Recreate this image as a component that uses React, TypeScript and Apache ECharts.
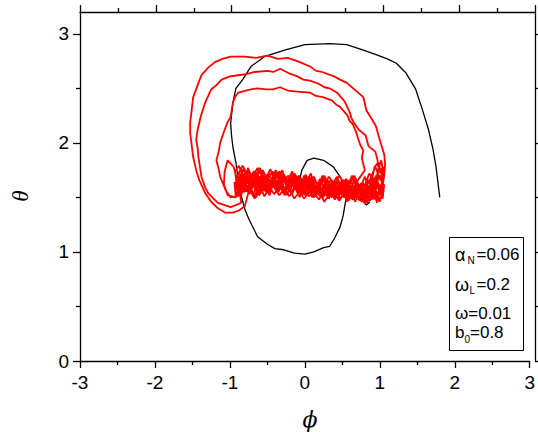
import React, { useEffect, useRef } from "react";
import * as echarts from "echarts";

// ---- axis settings ----
const xMin = -3;
const xMax = 3;
const yMin = 0;
const yMax = 3; // labelled range of the data grid
const yFrameMax = 3.2; // top edge of the frame
const yRightTicks = [0, 0.5, 1, 1.5, 2, 2.5, 3];

// ---- black trajectory ----
const blackPath: number[][] = [
  [0.87, 1.46], [0.82, 1.43], [0.76, 1.48], [0.70, 1.53], [0.62, 1.50], [0.55, 1.56],
  [0.45, 1.52], [0.35, 1.58], [0.25, 1.53], [0.15, 1.57], [0.05, 1.60], [-0.05, 1.64],
  [-0.06, 1.69], [-0.04, 1.75], [0.03, 1.84], [0.12, 1.86], [0.25, 1.84], [0.38, 1.78],
  [0.47, 1.69], [0.52, 1.60], [0.56, 1.52], [0.54, 1.45], [0.51, 1.33], [0.47, 1.23],
  [0.40, 1.13], [0.33, 1.05], [0.25, 1.04], [0.12, 1.00], [0.00, 0.98], [-0.14, 0.99],
  [-0.28, 1.02], [-0.40, 1.03], [-0.50, 1.07], [-0.63, 1.14], [-0.74, 1.29], [-0.80, 1.39],
  [-0.87, 1.57], [-0.92, 1.82], [-0.96, 1.96], [-0.98, 2.08], [-0.99, 2.18], [-0.96, 2.37],
  [-0.92, 2.50], [-0.83, 2.58], [-0.72, 2.70], [-0.54, 2.79], [-0.27, 2.85], [0.00, 2.90],
  [0.33, 2.91], [0.56, 2.90], [0.78, 2.85], [0.95, 2.81], [1.10, 2.77], [1.22, 2.73],
  [1.35, 2.64], [1.48, 2.49], [1.57, 2.30], [1.65, 2.12], [1.71, 1.94], [1.75, 1.78],
  [1.80, 1.50],
];

// ---- red trajectory pieces ----
const bandPass1: number[][] = [
  [-0.88, 1.60], [-0.80, 1.70], [-0.71, 1.58], [-0.62, 1.66], [-0.52, 1.55], [-0.43, 1.68],
  [-0.33, 1.61], [-0.22, 1.70], [-0.13, 1.57], [-0.02, 1.65], [0.08, 1.54], [0.18, 1.63],
  [0.27, 1.52], [0.37, 1.64], [0.48, 1.55], [0.57, 1.61], [0.68, 1.50], [0.77, 1.62],
  [0.87, 1.53], [0.96, 1.64], [1.03, 1.58],
];
const bandPass2: number[][] = [
  [1.05, 1.68], [0.97, 1.52], [0.90, 1.60], [0.81, 1.49], [0.72, 1.58], [0.63, 1.51],
  [0.53, 1.63], [0.44, 1.49], [0.33, 1.59], [0.24, 1.50], [0.13, 1.62], [0.03, 1.53],
  [-0.07, 1.66], [-0.18, 1.55], [-0.28, 1.69], [-0.38, 1.57], [-0.48, 1.72], [-0.58, 1.60],
  [-0.68, 1.74], [-0.78, 1.62], [-0.86, 1.72], [-0.92, 1.58],
];
const densePass1: number[][] = [
  [-0.90, 1.62], [-0.85, 1.70], [-0.80, 1.66], [-0.75, 1.74], [-0.70, 1.61], [-0.65, 1.68],
  [-0.60, 1.57], [-0.55, 1.65], [-0.50, 1.71], [-0.45, 1.60], [-0.40, 1.67], [-0.35, 1.55],
  [-0.30, 1.63], [-0.25, 1.69], [-0.20, 1.58], [-0.15, 1.66], [-0.10, 1.54], [-0.05, 1.61],
  [0.00, 1.67], [0.05, 1.56], [0.10, 1.63], [0.15, 1.52], [0.20, 1.60], [0.25, 1.66],
  [0.30, 1.55], [0.35, 1.62], [0.40, 1.50], [0.45, 1.58], [0.50, 1.64], [0.55, 1.53],
  [0.60, 1.60], [0.65, 1.49], [0.70, 1.57], [0.75, 1.63], [0.80, 1.52], [0.85, 1.59],
  [0.90, 1.48], [0.95, 1.62], [1.00, 1.70], [1.05, 1.60],
];
const densePass2: number[][] = [
  [1.04, 1.49], [0.99, 1.56], [0.94, 1.66], [0.89, 1.55], [0.84, 1.61], [0.79, 1.51],
  [0.74, 1.58], [0.69, 1.64], [0.64, 1.54], [0.59, 1.49], [0.54, 1.57], [0.49, 1.62],
  [0.44, 1.52], [0.39, 1.59], [0.34, 1.66], [0.29, 1.57], [0.24, 1.51], [0.19, 1.59],
  [0.14, 1.65], [0.09, 1.55], [0.04, 1.62], [-0.01, 1.70], [-0.06, 1.59], [-0.11, 1.66],
  [-0.16, 1.72], [-0.21, 1.61], [-0.26, 1.56], [-0.31, 1.66], [-0.36, 1.73], [-0.41, 1.62],
  [-0.46, 1.57], [-0.51, 1.67], [-0.56, 1.75], [-0.61, 1.64], [-0.66, 1.58], [-0.71, 1.69],
  [-0.76, 1.77], [-0.81, 1.60], [-0.86, 1.54], [-0.91, 1.66],
];
const bandPass3: number[][] = [
  [-0.90, 1.52], [-0.82, 1.63], [-0.74, 1.54], [-0.65, 1.73], [-0.56, 1.62], [-0.46, 1.76],
  [-0.37, 1.58], [-0.27, 1.66], [-0.17, 1.53], [-0.08, 1.70], [0.02, 1.59], [0.12, 1.67],
  [0.22, 1.57], [0.32, 1.69], [0.42, 1.60], [0.52, 1.66], [0.62, 1.56], [0.72, 1.67],
];
const innerArc: number[][] = [
  [0.80, 1.75], [0.76, 1.86], [0.78, 1.93], [0.74, 1.98], [0.71, 2.04], [0.69, 2.09],
  [0.64, 2.17], [0.60, 2.20], [0.57, 2.25], [0.47, 2.33], [0.42, 2.35], [0.36, 2.39],
  [0.24, 2.42], [0.15, 2.43], [0.07, 2.46], [-0.10, 2.47], [-0.23, 2.48], [-0.33, 2.51],
  [-0.43, 2.49], [-0.52, 2.49], [-0.63, 2.50], [-0.72, 2.49], [-0.89, 2.46], [-0.93, 2.42],
  [-0.96, 2.37], [-0.99, 2.24], [-1.03, 2.19], [-1.07, 2.12], [-1.13, 2.00], [-1.15, 1.92],
  [-1.18, 1.84], [-1.15, 1.76], [-1.13, 1.69], [-1.06, 1.57], [-0.99, 1.50], [-0.85, 1.52],
];
const bandPass5: number[][] = [
  [-0.95, 1.78], [-1.03, 1.84], [-1.07, 1.74], [-1.08, 1.62], [-1.03, 1.52], [-0.93, 1.50],
  [-0.84, 1.57], [-0.75, 1.69], [-0.66, 1.59], [-0.57, 1.70], [-0.47, 1.54], [-0.38, 1.73],
  [-0.28, 1.56], [-0.19, 1.64], [-0.09, 1.55], [0.01, 1.71], [0.11, 1.56], [0.21, 1.66],
  [0.31, 1.49], [0.41, 1.61], [0.51, 1.52], [0.61, 1.64], [0.71, 1.53], [0.80, 1.69],
  [0.89, 1.50], [0.98, 1.62], [1.04, 1.52],
];
const bandPass6: number[][] = [
  [1.06, 1.62], [1.00, 1.46], [0.92, 1.57], [0.83, 1.45], [0.74, 1.60], [0.64, 1.48],
  [0.55, 1.56], [0.46, 1.47], [0.36, 1.56], [0.26, 1.46], [0.16, 1.60], [0.06, 1.51],
  [-0.04, 1.58], [-0.14, 1.49], [-0.24, 1.61], [-0.34, 1.52], [-0.44, 1.62], [-0.54, 1.51],
  [-0.64, 1.67], [-0.74, 1.53], [-0.84, 1.64], [-0.90, 1.55],
];
const densePass3: number[][] = [
  [-0.93, 1.74], [-0.88, 1.79], [-0.83, 1.70], [-0.78, 1.55], [-0.73, 1.63], [-0.68, 1.72],
  [-0.63, 1.66], [-0.58, 1.54], [-0.53, 1.60], [-0.48, 1.69], [-0.43, 1.74], [-0.38, 1.63],
  [-0.33, 1.58], [-0.28, 1.71], [-0.23, 1.65], [-0.18, 1.53], [-0.13, 1.62], [-0.08, 1.68],
  [-0.03, 1.57], [0.02, 1.52], [0.07, 1.60], [0.12, 1.69], [0.17, 1.61], [0.22, 1.54],
  [0.27, 1.63], [0.32, 1.49], [0.37, 1.56], [0.42, 1.61], [0.47, 1.48], [0.52, 1.55],
  [0.57, 1.66], [0.62, 1.58], [0.67, 1.46], [0.72, 1.53], [0.77, 1.64], [0.82, 1.57],
  [0.87, 1.47], [0.92, 1.55], [0.97, 1.71], [1.03, 1.64],
];
const densePass4: number[][] = [
  [1.06, 1.76], [1.01, 1.58], [0.96, 1.45], [0.91, 1.67], [0.86, 1.72], [0.81, 1.63],
  [0.76, 1.50], [0.71, 1.61], [0.66, 1.67], [0.61, 1.57], [0.56, 1.46], [0.51, 1.58],
  [0.46, 1.65], [0.41, 1.56], [0.36, 1.50], [0.31, 1.61], [0.26, 1.70], [0.21, 1.63],
  [0.16, 1.53], [0.11, 1.59], [0.06, 1.67], [0.01, 1.58], [-0.04, 1.52], [-0.09, 1.63],
  [-0.14, 1.69], [-0.19, 1.60], [-0.24, 1.52], [-0.29, 1.59], [-0.34, 1.68], [-0.39, 1.75],
  [-0.44, 1.66], [-0.49, 1.55], [-0.54, 1.62], [-0.59, 1.70], [-0.64, 1.63], [-0.69, 1.52],
  [-0.74, 1.60], [-0.79, 1.73], [-0.84, 1.67], [-0.89, 1.57],
];
const bandPass7: number[][] = [
  [-0.91, 1.69], [-0.83, 1.79], [-0.73, 1.66], [-0.63, 1.77], [-0.53, 1.65], [-0.43, 1.63],
  [-0.34, 1.74], [-0.24, 1.60], [-0.14, 1.72], [-0.04, 1.62], [0.06, 1.69], [0.16, 1.58],
  [0.26, 1.68], [0.36, 1.56], [0.46, 1.70], [0.56, 1.58], [0.66, 1.70], [0.76, 1.55],
  [0.86, 1.65], [0.94, 1.78], [1.01, 1.66], [1.05, 1.78],
];
const middleArc: number[][] = [
  [0.99, 1.73], [0.97, 1.84], [0.94, 1.92], [0.85, 1.97], [0.83, 2.02], [0.81, 2.07],
  [0.72, 2.12], [0.65, 2.19], [0.62, 2.23], [0.60, 2.28], [0.53, 2.38], [0.43, 2.46],
  [0.33, 2.50], [0.26, 2.51], [0.19, 2.54], [0.07, 2.57], [-0.02, 2.58], [-0.10, 2.61],
  [-0.22, 2.64], [-0.33, 2.68], [-0.42, 2.65], [-0.50, 2.66], [-0.67, 2.65], [-0.78, 2.63],
  [-0.89, 2.62], [-1.00, 2.61], [-1.11, 2.58], [-1.18, 2.53], [-1.25, 2.49], [-1.33, 2.37],
  [-1.39, 2.24], [-1.43, 2.12], [-1.45, 2.03], [-1.43, 1.95], [-1.42, 1.87], [-1.38, 1.69],
  [-1.33, 1.59], [-1.29, 1.54], [-1.22, 1.49], [-1.16, 1.45], [-0.99, 1.41], [-0.85, 1.45],
];
const bandPass4: number[][] = [
  [-0.89, 1.67], [-0.81, 1.55], [-0.71, 1.65], [-0.61, 1.52], [-0.51, 1.64], [-0.41, 1.53],
  [-0.31, 1.63], [-0.21, 1.51], [-0.11, 1.60], [-0.01, 1.49], [0.09, 1.57], [0.19, 1.48],
  [0.29, 1.62], [0.39, 1.52], [0.49, 1.58], [0.58, 1.47], [0.66, 1.55], [0.76, 1.46],
  [0.85, 1.66], [0.93, 1.48], [0.97, 1.74], [1.02, 1.84], [1.05, 1.70],
];
const bandPass8: number[][] = [
  [1.03, 1.50], [0.95, 1.70], [0.88, 1.59], [0.79, 1.48], [0.69, 1.62], [0.60, 1.54],
  [0.50, 1.60], [0.40, 1.55], [0.30, 1.66], [0.20, 1.54], [0.11, 1.64], [0.01, 1.56],
  [-0.09, 1.62], [-0.19, 1.68], [-0.29, 1.55], [-0.39, 1.66], [-0.49, 1.59], [-0.59, 1.75],
  [-0.69, 1.62], [-0.79, 1.70], [-0.87, 1.58], [-0.94, 1.64],
];
const densePass5: number[][] = [
  [-0.92, 1.50], [-0.87, 1.63], [-0.82, 1.76], [-0.77, 1.69], [-0.72, 1.58], [-0.67, 1.50],
  [-0.62, 1.61], [-0.57, 1.68], [-0.52, 1.58], [-0.47, 1.52], [-0.42, 1.64], [-0.37, 1.70],
  [-0.32, 1.61], [-0.27, 1.54], [-0.22, 1.66], [-0.17, 1.74], [-0.12, 1.64], [-0.07, 1.50],
  [-0.02, 1.58], [0.03, 1.66], [0.08, 1.72], [0.13, 1.60], [0.18, 1.55], [0.23, 1.70],
  [0.28, 1.62], [0.33, 1.52], [0.38, 1.64], [0.43, 1.69], [0.48, 1.58], [0.53, 1.50],
  [0.58, 1.62], [0.63, 1.70], [0.68, 1.60], [0.73, 1.47], [0.78, 1.56], [0.83, 1.67],
  [0.88, 1.61], [0.93, 1.78], [0.98, 1.82], [1.03, 1.69],
];
const densePass6: number[][] = [
  [1.05, 1.55], [1.00, 1.48], [0.95, 1.56], [0.90, 1.70], [0.85, 1.52], [0.80, 1.44],
  [0.75, 1.55], [0.70, 1.62], [0.65, 1.52], [0.60, 1.58], [0.55, 1.67], [0.50, 1.57],
  [0.45, 1.54], [0.40, 1.64], [0.35, 1.58], [0.30, 1.51], [0.25, 1.59], [0.20, 1.67],
  [0.15, 1.57], [0.10, 1.50], [0.05, 1.58], [0.00, 1.63], [-0.05, 1.53], [-0.10, 1.60],
  [-0.15, 1.66], [-0.20, 1.55], [-0.25, 1.63], [-0.30, 1.75], [-0.35, 1.67], [-0.40, 1.59],
  [-0.45, 1.65], [-0.50, 1.61], [-0.55, 1.69], [-0.60, 1.77], [-0.65, 1.71], [-0.70, 1.65],
  [-0.75, 1.55], [-0.80, 1.65], [-0.85, 1.76], [-0.90, 1.70],
];
const bandPass9: number[][] = [
  [-0.86, 1.52], [-0.77, 1.61], [-0.67, 1.49], [-0.58, 1.58], [-0.48, 1.67], [-0.39, 1.57],
  [-0.29, 1.71], [-0.20, 1.59], [-0.10, 1.67], [0.00, 1.52], [0.10, 1.61], [0.20, 1.51],
  [0.30, 1.59], [0.40, 1.48], [0.50, 1.63], [0.60, 1.50], [0.70, 1.57], [0.80, 1.46],
  [0.90, 1.63], [0.98, 1.52], [1.05, 1.66], [1.06, 1.71],
];
const outerArc: number[][] = [
  [1.07, 1.80], [1.06, 1.89], [1.02, 1.98], [0.99, 2.05], [0.95, 2.15], [0.90, 2.21],
  [0.82, 2.30], [0.78, 2.42], [0.66, 2.49], [0.56, 2.55], [0.47, 2.58], [0.39, 2.61],
  [0.23, 2.65], [0.15, 2.66], [0.07, 2.70], [-0.10, 2.75], [-0.23, 2.78], [-0.36, 2.77],
  [-0.50, 2.80], [-0.65, 2.78], [-0.80, 2.79], [-0.99, 2.79], [-1.10, 2.77], [-1.20, 2.74],
  [-1.29, 2.69], [-1.38, 2.62], [-1.43, 2.53], [-1.49, 2.42], [-1.51, 2.30], [-1.53, 2.19],
  [-1.53, 2.09], [-1.51, 1.98], [-1.49, 1.87], [-1.45, 1.75], [-1.41, 1.66], [-1.33, 1.54],
  [-1.25, 1.46], [-1.16, 1.40], [-1.06, 1.36], [-0.96, 1.36], [-0.88, 1.38], [-0.80, 1.42],
];
const bandPass10: number[][] = [
  [-0.74, 1.58], [-0.65, 1.50], [-0.56, 1.66], [-0.46, 1.58], [-0.37, 1.65], [-0.27, 1.52],
  [-0.18, 1.67], [-0.08, 1.57], [0.02, 1.63], [0.12, 1.50], [0.22, 1.59], [0.32, 1.53],
  [0.42, 1.65], [0.52, 1.50], [0.62, 1.58], [0.72, 1.48], [0.82, 1.60], [0.91, 1.55],
  [0.98, 1.68],
];

const redPath: number[][] = [
  ...bandPass1, ...bandPass2, ...densePass1, ...densePass2, ...bandPass3, ...innerArc,
  ...bandPass5, ...bandPass6, ...densePass3, ...densePass4, ...bandPass7, ...middleArc,
  ...bandPass4, ...bandPass8, ...densePass5, ...densePass6, ...bandPass9, ...outerArc,
  ...bandPass10,
];

const AXIS_COLOR = "#000";
const LABEL_FONT = "'Liberation Sans', Arial, Helvetica, sans-serif";

export default function App() {
  const ref = useRef<HTMLDivElement>(null);
  useEffect(() => {
    if (!ref.current) return;
    const chart = echarts.init(ref.current, null, { renderer: "svg" });
    const lineStyle = { color: AXIS_COLOR, width: 1.3 };
    const gridBottom = 71;
    const frameTop = 12;
    const plotH = 432 - gridBottom - frameTop;
    const dataTop = frameTop + plotH * ((yFrameMax - yMax) / yFrameMax);
    const txt = (text: string, x: number, y: number, size: number, extra: any = {}) => ({
      type: "text",
      x,
      y,
      style: {
        text,
        fill: "#000",
        font: `${size}px ${LABEL_FONT}`,
        align: "left",
        verticalAlign: "middle",
      },
      ...extra,
    });
    chart.setOption({
      animation: false,
      grid: [
        { left: 80, right: 3, top: dataTop, bottom: gridBottom },
        { left: 80, right: 3, top: frameTop, bottom: gridBottom },
      ],
      xAxis: [
        {
          gridIndex: 0,
          type: "value",
          position: "bottom",
          min: xMin,
          max: xMax,
          interval: 1,
          axisLine: { show: true, onZero: false, lineStyle },
          axisTick: { show: true, inside: false, length: 7, lineStyle },
          minorTick: { show: true, splitNumber: 2, length: 4, lineStyle },
          axisLabel: { color: "#000", fontSize: 19, fontFamily: LABEL_FONT, margin: 12 },
          splitLine: { show: false },
        },
        {
          gridIndex: 1,
          type: "value",
          position: "top",
          min: xMin,
          max: xMax,
          interval: 1,
          axisLine: { show: true, onZero: false, lineStyle },
          axisTick: { show: true, inside: false, length: 7, lineStyle },
          minorTick: { show: true, splitNumber: 2, length: 4, lineStyle },
          axisLabel: { show: false },
          splitLine: { show: false },
        },
      ],
      yAxis: [
        {
          gridIndex: 0,
          type: "value",
          position: "left",
          min: yMin,
          max: yMax,
          interval: 1,
          axisLine: { show: false, onZero: false },
          axisTick: { show: true, inside: false, length: 7, lineStyle },
          minorTick: { show: true, splitNumber: 2, length: 4, lineStyle },
          axisLabel: { color: "#000", fontSize: 19, fontFamily: LABEL_FONT, margin: 11 },
          splitLine: { show: false },
        },
        {
          gridIndex: 1,
          type: "value",
          position: "left",
          min: yMin,
          max: yFrameMax,
          axisLine: { show: true, onZero: false, lineStyle },
          axisTick: { show: false },
          axisLabel: { show: false },
          splitLine: { show: false },
        },
        {
          gridIndex: 1,
          type: "value",
          position: "right",
          min: yMin,
          max: yFrameMax,
          axisLine: { show: true, onZero: false, lineStyle },
          axisTick: { show: true, inside: false, length: 7, lineStyle, customValues: yRightTicks },
          axisLabel: { show: false },
          splitLine: { show: false },
        },
      ],
      series: [
        {
          type: "line",
          xAxisIndex: 0,
          yAxisIndex: 0,
          data: blackPath,
          showSymbol: false,
          symbol: "none",
          lineStyle: { color: "#000", width: 1.3 },
          z: 2,
        },
        {
          type: "line",
          xAxisIndex: 0,
          yAxisIndex: 0,
          data: redPath,
          showSymbol: false,
          symbol: "none",
          lineStyle: { color: "#ff0000", width: 1.8 },
          z: 3,
        },
      ],
      graphic: [
        {
          type: "text",
          x: 20,
          y: 196,
          rotation: Math.PI / 2,
          style: {
            text: "θ",
            fill: "#000",
            font: "italic 23px 'Liberation Serif', 'DejaVu Serif', serif",
            align: "center",
            verticalAlign: "middle",
          },
        },
        {
          type: "text",
          x: 310,
          y: 419,
          style: {
            text: "ϕ",
            fill: "#000",
            font: "italic 22px 'DejaVu Serif', 'Liberation Serif', serif",
            align: "center",
            verticalAlign: "middle",
          },
        },
        {
          type: "rect",
          shape: { x: 449.5, y: 237.5, width: 74, height: 113 },
          style: { fill: "#fff", stroke: "#000", lineWidth: 1 },
          z: 10,
        },
        txt("α", 455, 254.5, 18, { z: 11 }),
        txt("N", 467.5, 260, 10, { z: 11 }),
        txt("=0.06", 476.5, 254.5, 17, { z: 11 }),
        txt("ω", 455, 284.5, 18, { z: 11 }),
        txt("L", 469.5, 290, 10, { z: 11 }),
        txt("=0.2", 476.5, 284.5, 17, { z: 11 }),
        txt("ω=0.01", 455, 313.5, 17, { z: 11 }),
        txt("b", 455, 332, 17, { z: 11 }),
        txt("0", 464.5, 339.5, 10, { z: 11 }),
        txt("=0.8", 470, 332, 17, { z: 11 }),
      ],
    });
    return () => chart.dispose();
  }, []);
  return (
    <div
      ref={ref}
      style={{ position: "fixed", left: 0, top: 0, width: 538, height: 432, background: "#fff" }}
    />
  );
}
